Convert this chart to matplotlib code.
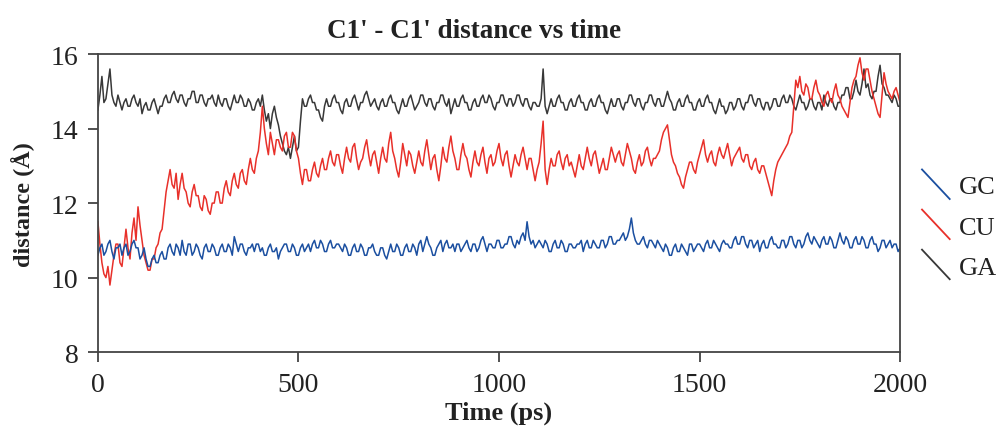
import matplotlib
matplotlib.use("Agg")
import matplotlib.pyplot as plt
from matplotlib.lines import Line2D
from matplotlib.legend_handler import HandlerBase

# time axis (ps), one sample every 5 ps
time_ps = list(range(0, 2001, 5))

gc = [
    10.6,10.8,10.9,10.6,10.7,10.9,11.0,10.7,10.5,10.8,10.8,10.9,10.6,10.8,10.9,10.6,10.7,10.9,11.0,10.8,
    10.8,10.5,10.6,10.8,10.5,10.3,10.3,10.5,10.6,10.4,10.4,10.6,10.7,10.5,10.5,10.8,10.9,10.7,10.6,10.9,
    10.8,10.6,11.0,10.7,10.6,10.9,10.9,10.6,10.7,10.9,10.8,10.6,10.5,10.8,10.9,10.7,10.7,10.9,10.8,10.6,
    10.6,10.8,10.9,10.7,10.7,10.9,10.8,10.6,11.1,10.9,10.7,10.9,10.9,10.7,10.6,10.8,10.8,10.9,10.7,10.9,
    10.9,10.7,10.8,10.6,10.6,10.8,10.9,10.7,10.7,10.8,10.5,10.7,10.8,10.9,10.9,10.7,10.7,10.9,10.8,10.6,
    10.6,10.8,10.9,10.7,10.8,10.9,10.7,10.9,11.0,10.8,10.8,11.0,10.9,10.7,10.7,10.9,11.0,10.8,10.8,10.9,
    10.9,10.8,10.7,10.9,10.8,10.6,10.6,10.8,10.9,10.7,10.7,10.9,10.8,10.6,10.6,10.8,10.8,10.9,10.7,10.6,
    10.6,10.8,10.8,10.6,10.5,10.7,10.9,10.7,10.7,10.9,10.8,10.6,10.6,10.8,10.9,10.7,10.7,10.9,10.8,10.6,
    10.9,11.0,10.7,10.9,11.1,10.9,10.8,10.6,10.6,10.8,10.9,11.0,10.7,10.9,11.0,10.8,10.8,10.9,10.7,10.9,
    10.9,10.7,10.8,10.9,11.0,10.8,10.7,10.9,10.9,10.7,10.8,11.0,11.1,10.9,10.7,10.9,10.9,10.8,10.8,11.0,
    11.0,10.8,10.8,10.9,10.9,11.1,11.1,10.9,10.8,11.0,10.9,11.1,11.2,11.0,11.5,11.1,10.9,11.0,10.8,10.9,
    11.0,10.9,10.8,11.0,10.9,10.7,10.7,10.9,11.0,10.8,10.8,11.0,10.9,10.7,10.7,10.9,10.9,10.8,10.8,10.9,
    10.9,11.0,10.7,10.9,11.0,10.8,10.8,11.0,10.9,10.8,10.8,11.0,11.0,10.8,10.9,11.1,11.1,10.9,10.9,11.0,
    11.0,11.1,11.2,11.0,11.1,11.3,11.6,11.2,11.0,10.9,10.9,11.0,11.1,10.9,10.8,11.0,11.0,10.9,10.8,11.0,
    10.9,10.8,10.7,10.9,10.8,10.6,10.6,10.8,10.9,10.7,10.7,10.9,10.8,10.7,10.6,10.9,10.9,10.7,10.8,10.9,
    10.9,10.8,10.7,10.9,11.0,10.8,10.8,11.0,10.9,10.8,10.7,10.9,11.0,10.9,10.9,10.8,10.8,11.0,11.1,10.9,
    10.9,11.1,11.1,10.9,10.8,11.0,11.0,10.8,10.9,11.0,10.7,10.9,11.0,10.8,10.8,11.0,11.1,10.9,10.9,10.8,
    10.8,11.0,11.0,10.8,10.9,11.1,11.1,10.9,10.8,11.0,11.0,10.8,10.9,11.1,11.2,11.0,10.9,11.1,11.0,10.9,
    10.8,11.0,11.1,10.9,10.9,11.1,11.0,10.8,10.8,11.0,11.2,11.0,10.9,11.1,11.0,10.8,10.8,11.0,11.1,10.9,
    10.9,11.1,11.0,10.8,10.8,11.0,11.1,10.9,10.9,10.7,10.8,11.0,11.0,10.8,10.9,11.0,10.8,10.9,10.9,10.7,
    10.8,
]

cu = [
    11.5,10.9,10.4,10.1,10.0,10.3,9.8,10.2,10.6,10.9,10.9,10.4,10.3,10.8,11.3,10.8,10.5,11.2,11.6,11.0,
    11.9,11.4,11.0,10.6,10.4,10.2,10.2,10.5,10.5,10.8,10.9,11.2,11.3,11.8,12.3,12.6,12.9,12.5,12.4,12.8,
    12.1,12.5,12.8,12.4,12.3,12.0,11.9,12.3,12.5,12.2,12.2,11.9,11.8,12.2,12.1,11.8,11.7,12.0,12.0,12.3,
    12.3,12.0,12.0,12.4,12.6,12.3,12.2,12.6,12.8,12.5,12.4,12.8,12.9,12.6,12.5,12.9,13.2,12.9,12.8,13.2,
    13.4,13.9,14.6,14.0,13.6,13.3,13.9,13.6,13.3,13.7,13.7,13.5,13.4,13.8,13.9,13.5,13.5,13.9,13.8,13.4,
    13.2,12.8,12.5,12.9,12.9,12.6,12.6,12.9,13.1,12.8,12.7,13.0,13.2,12.9,12.9,13.2,13.4,13.1,13.0,13.3,
    13.3,13.0,12.8,13.2,13.5,13.2,13.1,13.5,13.6,13.2,12.9,13.1,13.2,13.5,13.7,13.3,13.0,13.3,13.4,13.1,
    12.8,13.2,13.5,13.2,13.1,13.6,13.9,13.4,13.2,12.9,12.7,13.1,13.6,13.3,13.0,13.4,13.3,13.0,12.8,13.1,
    13.4,13.1,13.0,13.4,13.7,13.3,12.9,13.2,13.3,12.9,12.6,13.0,13.5,13.2,13.1,13.5,13.8,13.4,13.2,12.9,
    12.9,13.3,13.6,13.3,13.2,12.9,12.7,13.1,13.4,13.1,13.0,13.3,13.5,13.1,12.8,13.2,13.3,13.0,13.1,13.4,
    13.6,13.2,13.0,13.3,13.4,13.0,12.7,13.0,13.3,13.1,13.0,13.3,13.5,13.2,12.9,13.2,13.2,12.9,12.6,12.9,
    13.1,13.6,14.2,12.9,12.5,12.9,13.2,13.0,13.0,13.3,13.4,13.1,12.9,13.2,13.3,13.0,13.1,12.9,12.7,13.0,
    13.3,13.0,12.9,13.2,13.5,13.2,13.0,13.3,13.4,13.1,12.8,13.0,13.2,12.9,12.9,13.2,13.5,13.3,13.1,13.3,
    13.4,13.1,13.0,13.3,13.6,13.4,13.2,12.9,12.8,13.1,13.3,13.0,13.1,13.4,13.5,13.2,13.0,13.2,13.2,13.3,
    13.4,13.7,13.9,14.0,14.1,13.7,13.3,13.1,13.0,12.8,12.7,12.5,12.4,12.7,12.9,13.1,13.1,12.9,12.8,13.1,
    13.3,13.5,13.7,13.3,13.1,13.3,13.4,13.1,13.0,13.3,13.5,13.3,13.2,13.4,13.6,13.3,13.0,13.2,13.3,13.4,
    13.5,13.2,13.1,13.3,13.3,13.0,12.9,13.1,13.2,12.9,12.8,13.0,13.0,12.8,12.6,12.4,12.2,12.6,12.9,13.1,
    13.2,13.3,13.4,13.5,13.6,13.8,13.9,14.6,15.3,15.1,15.4,15.0,14.9,15.2,15.1,14.8,14.8,15.1,15.3,15.0,
    14.9,14.7,14.6,14.9,15.0,14.8,14.7,15.0,15.2,14.9,14.8,14.6,14.5,14.4,14.3,14.7,15.1,15.3,15.4,15.7,
    15.9,15.5,15.3,15.6,15.6,15.3,15.0,14.8,14.6,14.4,14.3,14.9,15.5,15.2,15.0,14.9,14.8,15.0,15.1,14.9,
    14.7,
]

ga = [
    14.5,14.9,15.4,14.7,14.8,15.2,15.6,14.9,14.7,14.6,14.9,14.7,14.5,14.7,14.8,14.6,14.6,14.8,14.9,14.7,
    14.6,14.8,14.4,14.6,14.7,14.5,14.5,14.7,14.8,14.6,14.4,14.6,14.6,14.8,14.9,14.7,14.7,14.9,15.0,14.8,
    14.7,14.9,14.9,14.7,14.6,14.8,14.8,15.0,15.0,14.7,14.7,14.9,14.9,14.7,14.6,14.8,14.8,14.9,14.7,14.6,
    14.9,14.7,14.6,14.8,14.8,14.6,14.5,14.7,14.9,14.7,14.7,14.9,14.8,14.6,14.6,14.8,14.7,14.5,14.5,14.7,
    14.8,14.6,14.9,14.5,14.2,14.4,14.0,14.4,14.6,14.3,14.1,13.8,13.6,13.4,13.3,13.5,13.2,13.5,13.8,13.4,
    13.5,14.2,14.8,14.6,14.6,14.8,14.9,14.7,14.7,14.5,14.5,14.3,14.2,14.6,14.8,14.6,14.6,14.8,14.9,14.7,
    14.7,14.5,14.4,14.7,14.8,14.6,14.6,14.8,14.9,14.7,14.5,14.7,14.7,14.9,15.0,14.8,14.6,14.7,14.8,14.6,
    14.5,14.7,14.8,14.6,14.6,14.8,14.9,14.7,14.7,14.5,14.4,14.6,14.8,14.6,14.6,14.8,14.9,14.7,14.5,14.6,
    14.7,14.9,14.9,14.7,14.6,14.8,14.8,14.6,14.5,14.7,14.7,14.9,14.9,14.7,14.6,14.8,14.4,14.6,14.8,14.6,
    14.6,14.8,14.9,14.7,14.7,14.5,14.5,14.7,14.8,14.6,14.6,14.8,14.9,14.7,14.7,14.9,14.8,14.6,14.5,14.7,
    14.7,14.9,14.9,14.7,14.6,14.8,14.8,14.6,14.7,14.9,14.9,14.7,14.6,14.8,14.8,14.6,14.5,14.7,14.7,14.6,
    14.6,14.8,15.6,14.6,14.4,14.6,14.8,14.6,14.6,14.8,14.9,14.7,14.7,14.5,14.5,14.7,14.8,14.6,14.6,14.8,
    14.9,14.7,14.7,14.5,14.5,14.7,14.8,14.6,14.6,14.8,14.9,14.7,14.7,14.5,14.4,14.6,14.8,14.6,14.6,14.8,
    14.8,14.6,14.5,14.7,14.7,14.9,14.9,14.7,14.6,14.8,14.8,14.6,14.5,14.7,14.7,14.9,14.9,14.7,14.6,14.8,
    14.8,14.6,14.6,14.8,15.0,14.8,14.7,14.5,14.5,14.7,14.8,14.6,14.6,14.8,14.9,14.7,14.7,14.5,14.5,14.7,
    14.8,14.6,14.6,14.8,14.9,14.7,14.7,14.5,14.4,14.6,14.8,14.6,14.6,14.4,14.5,14.7,14.7,14.5,14.6,14.8,
    14.8,14.6,14.5,14.7,14.7,14.9,14.9,14.7,14.6,14.8,14.8,14.6,14.5,14.7,14.7,14.5,14.6,14.8,14.8,14.6,
    14.6,14.8,14.9,14.7,14.7,14.9,14.8,14.6,14.5,14.7,14.9,14.7,14.7,14.5,14.6,14.8,14.8,14.6,14.5,14.7,
    14.7,14.5,14.9,14.7,14.6,14.8,14.8,14.6,14.5,14.7,14.7,14.9,14.9,15.1,15.1,14.8,14.8,15.0,15.3,15.0,
    14.9,15.2,15.6,15.1,15.2,14.9,14.8,15.0,15.0,15.4,15.7,15.2,15.1,14.9,14.9,14.8,14.7,14.9,14.8,14.6,
    14.6,
]

series_names = ["GC", "CU", "GA"]
series_colors = {"GC": "#1b4fa0", "CU": "#e8302a", "GA": "#383838"}
data = {"GC": gc, "CU": cu, "GA": ga}
x_ticks = [0, 500, 1000, 1500, 2000]
y_ticks = [8, 10, 12, 14, 16]

plt.rcParams["font.family"] = ["Liberation Serif", "DejaVu Serif"]

fig = plt.figure(figsize=(9.99, 4.27), dpi=100)
ax = fig.add_axes([0.098, 0.173, 0.803, 0.698])

lines = {}
for name in ["GA", "CU", "GC"]:
    n = min(len(time_ps), len(data[name]))
    (ln,) = ax.plot(time_ps[:n], data[name][:n], color=series_colors[name], lw=1.1)
    lines[name] = ln

ax.set_xlim(0, 2000)
ax.set_ylim(8, 16)
ax.set_xticks(x_ticks)
ax.set_yticks(y_ticks)
ax.tick_params(direction="out", length=7.5, width=1.2, labelsize=20,
               colors="#333333", labelcolor="#222222", pad=6.5)
for s in ax.spines.values():
    s.set_color("#444444")
    s.set_linewidth(1.3)

ax.set_title("C1' - C1' distance vs time", fontsize=19.5, fontweight="bold",
             color="#222222", pad=12, x=0.469)
ax.set_xlabel("Time (ps)", fontsize=19, fontweight="bold", color="#222222",
              labelpad=3)
ax.set_ylabel("distance (Å)", fontsize=17.5, fontweight="bold", color="#222222",
              labelpad=11)


class DiagHandler(HandlerBase):
    def create_artists(self, legend, orig_handle, xdescent, ydescent,
                       width, height, fontsize, trans):
        l = Line2D([0, width], [height * 1.3, -height * 0.3],
                   color=orig_handle.get_color(), lw=1.3, transform=trans)
        return [l]


handles = [lines[n] for n in series_names]
leg = fig.legend(handles, series_names, loc="upper left",
                 bbox_to_anchor=(922 / 999, 1 - 176 / 427), frameon=False,
                 fontsize=19, handler_map={Line2D: DiagHandler()},
                 handlelength=1.05, handletextpad=0.34, labelspacing=0.63,
                 borderpad=0, borderaxespad=0)
for t in leg.get_texts():
    t.set_color("#222222")

fig.savefig("out.png", dpi=100)
